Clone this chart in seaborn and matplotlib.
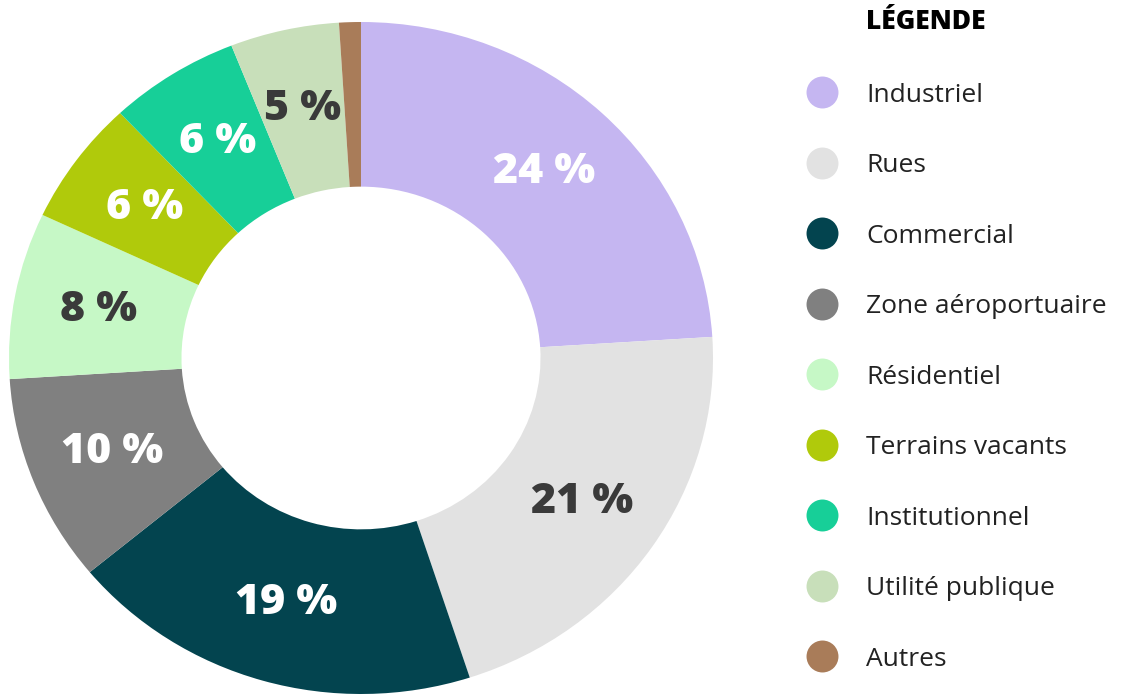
import matplotlib
matplotlib.use("Agg")
import matplotlib.pyplot as plt
from matplotlib.lines import Line2D
import seaborn as sns

# data (start at top, clockwise)
categories = ["Industriel", "Rues", "Commercial", "Zone aéroportuaire", "Résidentiel",
              "Terrains vacants", "Institutionnel", "Utilité publique", "Autres"]
shares = [24, 21, 19, 10, 8, 6, 6, 5, 1]
colors = ["#C5B6F1", "#E2E2E2", "#03444F", "#808080", "#C6F8C6",
          "#B0CA0B", "#17CF98", "#C8DFBA", "#A97C59"]
label_colors = ["white", "#3A3A3A", "white", "white", "#3A3A3A",
                "white", "white", "#3A3A3A", "white"]

sns.set_theme(style="white")
plt.rcParams["font.family"] = ["Open Sans", "DejaVu Sans"]

W, H = 1121, 696
fig = plt.figure(figsize=(W / 100, H / 100), dpi=100)

# the donut in the reference is a bit squashed: 704 px wide, 672 px tall
ax = fig.add_axes([9 / W, 2 / H, 704 / W, 672 / H])
wedges, texts, autotexts = ax.pie(
    shares, colors=colors, startangle=90, counterclock=False,
    wedgeprops=dict(width=0.49, linewidth=0),
    autopct=lambda p: f"{round(p)} %" if p >= 2 else "",
    pctdistance=0.76,
)
ax.set_aspect("auto")
ax.set_xlim(-1, 1)
ax.set_ylim(-1, 1)
for w in wedges:
    w.set_clip_on(False)
for t, c in zip(autotexts, label_colors):
    t.set_color(c)
    t.set_fontsize(31)
    t.set_fontweight("heavy")

handles = [Line2D([], [], marker="o", ls="", markersize=23, markerfacecolor=c,
                  markeredgecolor="none") for c in colors]
leg = fig.legend(handles, categories, loc="upper left", bbox_to_anchor=(785 / W, 1 - 72 / H),
                 frameon=False, fontsize=19, labelspacing=1.725, handletextpad=0.67,
                 borderaxespad=0)
for t in leg.get_texts():
    t.set_color("#222222")

fig.text(866 / W, 1 - 22 / H, "LÉGENDE", fontsize=19, fontweight="heavy",
         color="black", ha="left", va="center")

fig.savefig("out.png", dpi=100)
